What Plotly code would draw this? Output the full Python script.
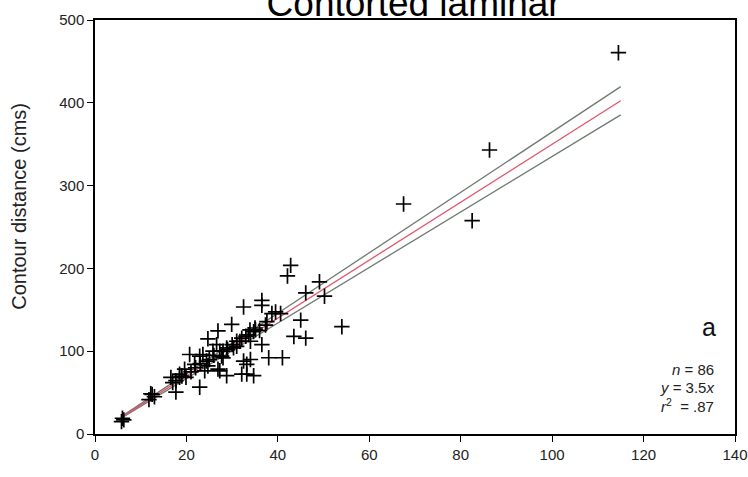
import plotly.graph_objects as go

# ---- data ----
x_vals = [5.8, 6.3, 6.0,
          12.2, 11.8, 12.5, 13.0, 17.7, 16.6, 18.5, 17.7, 18.5, 19.9, 19.6, 20.7, 21.8,
          22.9, 23.6, 24.4, 24.0, 22.9, 24.7, 25.8, 24.7, 26.9, 26.6, 27.3, 27.7, 28.0,
          28.8, 26.9, 27.3, 28.8, 29.9, 30.3, 31.0, 31.7, 32.5, 32.1, 32.5, 33.2, 33.6,
          33.9, 34.7, 35.1, 32.1, 33.2, 34.7, 36.5, 36.5, 36.5, 37.3, 37.6, 38.0, 38.7,
          39.5, 40.6, 41.0, 42.1, 42.8, 43.5, 45.0, 46.1, 46.1, 49.1, 50.2, 54.0,
          17.0, 19.0, 21.0, 22.0, 23.0, 25.0, 26.0, 29.0, 30.0, 31.0, 33.0, 34.0, 35.0,
          36.0, 34.0, 28.0,
          67.5, 82.5, 86.3, 114.5]
y_vals = [15, 17, 19,
          48.6, 41.5, 47.8, 45, 50.6, 68.4, 68.4, 64.4, 72.3, 68.4, 78.3, 96, 84.2,
          94.1, 96, 88.1, 76.3, 56.5, 82.2, 100, 115, 124.5, 107.9, 100, 94.1, 100,
          104, 78.3, 76.3, 70.4, 132.4, 104, 105.9, 111.9, 153.4, 115.8, 88.1, 84.2, 119.8,
          125.7, 123.7, 125.7, 72.3, 72.3, 70.4, 161.3, 155.3, 107.9, 131.6, 135.6, 92.1, 145.5,
          147.4, 145.5, 92.1, 190.9, 203.6, 117.8, 137.5, 115.8, 170.4, 183.8, 166.4, 129.6,
          62, 70, 75, 80, 85, 90, 95, 102, 108, 112, 118, 112, 128,
          125, 90, 92,
          277.8, 257.6, 343, 460.5]

fit_x_range = [6, 115]
fit_slope = 3.5
ci_slopes = [3.648, 3.352]

x_ticks = [0, 20, 40, 60, 80, 100, 120, 140]
y_ticks = [0, 100, 200, 300, 400, 500]

FONT = "Liberation Sans, Arial, sans-serif"

fig = go.Figure()

for s in ci_slopes:
    fig.add_trace(go.Scatter(
        x=fit_x_range, y=[s * v for v in fit_x_range], mode="lines",
        line=dict(color="#6f7a70", width=1.3), showlegend=False, hoverinfo="skip"))

fig.add_trace(go.Scatter(
    x=fit_x_range, y=[fit_slope * v for v in fit_x_range], mode="lines",
    line=dict(color="#e2556e", width=1.3), showlegend=False, hoverinfo="skip"))

fig.add_trace(go.Scatter(
    x=x_vals, y=y_vals, mode="markers",
    marker=dict(symbol="cross-thin", size=11, line=dict(color="black", width=1.7)),
    showlegend=False))

axis_common = dict(
    showline=True, linecolor="black", linewidth=1.5, mirror=True,
    ticks="outside", ticklen=6, tickwidth=1.2, tickcolor="black",
    showgrid=False, zeroline=False, automargin=False,
    tickfont=dict(family=FONT, size=15, color="#222"),
)

fig.update_xaxes(range=[0, 140], tickvals=x_ticks, **axis_common)
fig.update_yaxes(range=[0, 500], tickvals=y_ticks, **axis_common)

# y-axis title
fig.add_annotation(xref="paper", yref="paper", x=-0.118, y=0.55, xanchor="center",
                   yanchor="middle", showarrow=False, textangle=-90,
                   text="Contour distance (cms)",
                   font=dict(family=FONT, size=20, color="#222"))

fig.add_annotation(xref="paper", yref="paper", x=0.973, y=0.258, xanchor="right",
                   yanchor="middle", showarrow=False, text="a",
                   font=dict(family=FONT, size=25, color="#111"))
stats = ["<i>n</i> = 86", "<i>y</i> = 3.5<i>x</i>", "<i>r</i><sup>2</sup>  = .87"]
stat_y = [0.155, 0.112, 0.068]
for t, yy in zip(stats, stat_y):
    fig.add_annotation(xref="paper", yref="paper", x=0.97, y=yy, xanchor="right",
                       yanchor="middle", showarrow=False, text=t,
                       font=dict(family=FONT, size=15, color="#222"))

fig.update_layout(
    width=748, height=477,
    margin=dict(l=95, r=13, t=20, b=43),
    paper_bgcolor="white", plot_bgcolor="white",
    title=dict(text="Contorted laminar", x=0.553, xanchor="center",
               y=0.993, yanchor="middle", yref="container",
               font=dict(family=FONT, size=37, color="black")),
)

fig.write_html("out.html")
